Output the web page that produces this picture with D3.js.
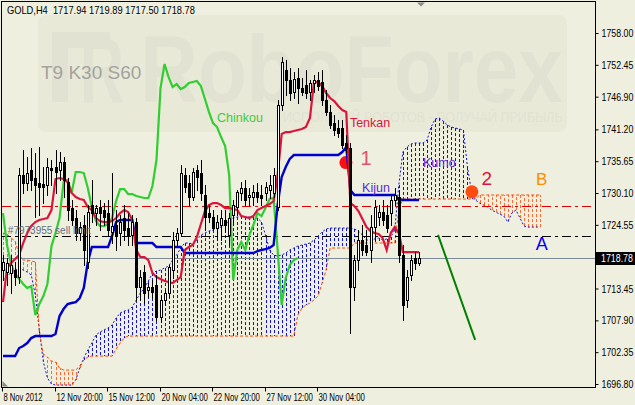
<!DOCTYPE html>
<html><head><meta charset="utf-8">
<script src="https://cdn.jsdelivr.net/npm/d3@7"></script>
<style>
html,body{margin:0;padding:0;background:#efefdf;}
svg{display:block;font-family:"Liberation Sans",Arial,sans-serif;}
</style></head><body>
<svg id="c" width="635" height="405"></svg>
<script>
// ---------- data ----------
const symbolInfo = "GOLD,H4  1717.94 1719.89 1717.50 1718.78";
const settingsText = "T9 K30 S60";
const dateTickIndex = [0, 13, 26, 39, 52, 65, 78];
const dateTickLabels = ["8 Nov 2012", "12 Nov 20:00", "15 Nov 12:00", "20 Nov 04:00", "22 Nov 20:00", "27 Nov 12:00", "30 Nov 04:00"];
const priceTicks = [1758.00, 1752.45, 1746.90, 1741.20, 1735.65, 1730.10, 1724.55, 1713.45, 1707.90, 1702.35, 1696.80];
const lastPrice = 1718.78;

const open = [1716.67,1716.32,1716.15,1716.67,1715.45,1733.23,1731.84,1734.11,1732.71,1731.84,
1731.66,1731.49,1734.46,1734.63,1734.11,1735.50,1732.01,1727.48,1725.74,1723.12,
1724.52,1718.07,1728.00,1726.61,1727.66,1727.13,1726.61,1723.30,1724.52,1723.12,
1725.74,1724.00,1722.77,1725.04,1713.71,1716.32,1713.18,1713.71,1714.06,1708.47,
1711.44,1712.66,1716.67,1721.90,1723.12,1733.23,1731.84,1729.40,1734.11,1733.58,
1729.75,1726.61,1725.91,1724.00,1724.52,1725.39,1722.77,1726.26,1727.66,1730.10,
1730.97,1729.40,1729.40,1730.27,1729.75,1730.10,1730.62,1730.10,1727.66,1745.44,
1751.54,1749.80,1747.71,1750.15,1748.41,1748.93,1747.71,1749.28,1749.80,1749.45,
1746.31,1744.22,1742.30,1741.43,1741.43,1738.81,1737.94,1713.71,1718.41,1721.90,
1721.03,1720.16,1724.17,1725.91,1726.78,1726.26,1726.61,1728.88,1729.40,1719.29,
1711.44,1715.80,1718.76,1717.94];
const high = [1719.29,1718.76,1719.29,1718.07,1734.46,1737.59,1736.37,1737.94,1737.07,1738.11,
1734.63,1736.20,1735.85,1737.59,1737.24,1736.37,1732.71,1728.88,1727.13,1725.04,
1726.26,1728.00,1732.36,1728.00,1728.88,1728.35,1728.88,1733.58,1727.13,1726.26,
1728.00,1726.61,1726.26,1725.74,1716.67,1717.54,1714.40,1714.93,1715.80,1712.31,
1713.18,1717.54,1723.30,1724.00,1734.98,1734.46,1733.23,1734.46,1734.98,1735.85,
1731.49,1728.00,1727.13,1726.26,1727.13,1727.13,1726.61,1728.88,1730.62,1732.01,
1732.36,1730.97,1731.49,1731.84,1731.49,1732.01,1733.23,1734.46,1746.31,1753.81,
1753.29,1751.89,1751.19,1751.89,1750.15,1751.54,1749.80,1750.67,1751.19,1751.54,
1748.06,1745.44,1743.70,1742.83,1742.83,1740.21,1738.81,1719.29,1723.65,1724.52,
1723.65,1726.26,1728.88,1728.00,1728.88,1728.00,1729.75,1730.97,1730.62,1721.03,
1716.67,1719.29,1719.81,1719.89];
const low = [1714.93,1714.06,1712.66,1714.06,1714.40,1730.10,1730.62,1730.62,1725.91,1726.26,
1728.35,1729.75,1731.49,1730.10,1732.36,1729.40,1725.39,1724.52,1721.90,1721.90,
1717.54,1717.02,1725.04,1724.52,1723.65,1724.52,1722.77,1721.38,1720.16,1721.03,
1721.90,1721.03,1721.03,1711.44,1711.44,1710.92,1711.96,1711.79,1707.95,1707.60,
1710.57,1711.96,1715.27,1721.03,1722.60,1730.27,1728.00,1728.88,1730.62,1728.88,
1723.65,1725.04,1723.65,1721.90,1721.90,1723.30,1721.03,1724.52,1726.26,1728.88,
1728.00,1728.00,1728.00,1728.53,1728.00,1728.88,1729.23,1729.40,1727.13,1744.57,
1747.18,1746.31,1746.66,1745.79,1747.18,1746.66,1746.31,1747.71,1748.06,1745.44,
1743.70,1741.43,1740.21,1739.86,1737.94,1737.24,1705.67,1711.44,1716.67,1719.29,
1719.29,1718.07,1721.90,1724.52,1724.52,1723.30,1724.52,1728.00,1718.07,1707.95,
1710.22,1714.93,1716.84,1717.50];
const close = [1718.07,1717.89,1717.54,1715.45,1733.23,1731.84,1733.58,1732.36,1731.49,1731.14,
1731.14,1734.63,1734.11,1733.76,1735.50,1732.36,1727.13,1725.39,1723.12,1724.17,
1720.16,1726.78,1726.61,1727.48,1726.61,1725.91,1723.65,1724.34,1722.77,1725.04,
1723.65,1722.77,1725.04,1713.71,1715.45,1712.66,1713.71,1712.83,1708.47,1711.44,
1712.66,1717.19,1721.90,1723.12,1733.58,1731.14,1729.40,1733.76,1732.88,1730.10,
1725.91,1725.91,1724.00,1725.04,1725.74,1724.52,1725.74,1728.00,1730.27,1730.97,
1728.88,1729.75,1730.27,1729.40,1729.23,1731.14,1731.49,1733.23,1745.44,1752.94,
1749.80,1747.53,1749.97,1748.41,1747.71,1747.53,1749.28,1749.80,1748.75,1746.31,
1744.22,1741.95,1741.08,1740.56,1738.47,1737.94,1713.71,1718.41,1721.90,1720.16,
1719.81,1724.17,1727.66,1726.78,1725.39,1724.00,1728.88,1729.75,1719.29,1710.57,
1715.45,1718.41,1717.89,1718.78];

const tenkan = [1711.09,1717.02,1717.89,1718.59,1719.29,1721.38,1723.12,1724.34,1725.04,1725.39,
1725.56,1725.74,1727.13,1732.54,1732.71,1732.54,1732.01,1730.10,1729.40,1729.05,
1728.88,1727.66,1727.13,1725.74,1725.21,1725.04,1725.04,1725.21,1725.74,1726.61,
1727.13,1726.78,1725.39,1720.16,1718.94,1718.94,1718.41,1716.15,1715.45,1715.10,
1714.75,1714.58,1714.40,1714.93,1715.45,1720.16,1720.68,1721.03,1722.42,1724.69,
1726.96,1728.00,1728.35,1728.35,1728.00,1727.48,1727.48,1727.31,1727.13,1726.09,
1725.91,1725.74,1726.09,1727.13,1727.48,1727.83,1728.18,1728.70,1733.23,1740.38,
1740.73,1740.73,1740.91,1741.08,1741.26,1741.61,1743.17,1749.45,1749.45,1748.75,
1747.53,1746.66,1746.14,1745.27,1744.57,1744.22,1728.35,1727.83,1726.96,1725.56,
1724.17,1723.47,1723.12,1722.95,1722.25,1720.16,1723.12,1724.17,1723.12,1719.81,
1719.81,1719.81,1719.81,1719.81];
const kijun = [1701.67,1701.67,1701.67,1701.67,1703.07,1703.42,1703.94,1704.81,1705.16,1705.16,
1705.16,1705.16,1705.16,1705.51,1708.65,1709.87,1710.74,1710.92,1711.09,1711.79,
1713.53,1718.07,1720.68,1720.68,1720.68,1720.68,1720.68,1722.60,1725.04,1725.39,
1725.39,1725.39,1725.39,1721.38,1721.38,1721.38,1721.38,1721.38,1720.68,1720.68,
1720.68,1720.68,1720.68,1720.68,1720.68,1719.63,1719.63,1719.63,1719.63,1719.63,
1719.63,1719.63,1719.63,1719.63,1719.63,1719.63,1719.63,1719.63,1719.63,1719.63,
1719.63,1719.63,1719.63,1719.98,1720.16,1720.33,1720.51,1721.03,1728.00,1732.88,
1734.63,1736.03,1736.72,1736.72,1736.72,1736.72,1736.72,1736.72,1736.72,1736.72,
1736.72,1736.72,1736.72,1736.72,1737.25,1738.12,1730.62,1729.75,1729.75,1729.75,
1729.75,1729.75,1729.75,1729.75,1729.75,1729.75,1729.75,1729.75,1729.05,1728.88,
1728.88,1728.88,1728.88,1728.88];
const chinkou = [1726.61,1721.03,1717.72,1715.97,1715.10,1714.23,1713.53,1713.88,1708.82,1710.74,
1712.14,1714.23,1720.85,1723.12,1725.74,1732.01,1732.36,1730.10,1733.76,1733.76,
1733.58,1730.97,1727.66,1725.21,1724.34,1724.34,1724.69,1725.74,1728.70,1730.79,
1730.79,1729.92,1729.92,1729.57,1729.40,1729.23,1729.23,1731.32,1735.85,1748.41,
1752.59,1750.32,1748.58,1749.10,1748.23,1748.58,1749.28,1749.45,1749.63,1748.75,
1746.49,1744.22,1742.30,1741.61,1739.86,1738.29,1733.23,1714.93,1720.16,1721.55,
1720.16,1722.77,1724.52,1726.61,1726.09,1727.48,1729.05,1729.23,1720.16,1710.57,
1715.27,1717.54,1718.41,1718.78];
const spanA = [1714.93,1715.45,1716.32,1716.67,1717.02,1716.67,1716.32,1715.80,1712.31,1706.21,
1700.63,1697.84,1696.79,1696.62,1696.62,1696.62,1696.62,1696.62,1697.49,1699.58,
1701.33,1702.72,1703.94,1705.34,1705.86,1706.21,1706.56,1707.08,1708.30,1709.17,
1709.52,1709.70,1710.22,1711.44,1712.66,1713.53,1714.75,1716.15,1716.50,1716.67,
1717.02,1717.37,1718.41,1719.29,1720.51,1721.38,1721.38,1721.20,1721.90,1722.77,
1723.12,1723.47,1723.64,1723.99,1724.17,1724.52,1725.39,1725.74,1725.91,1726.09,
1725.91,1725.91,1725.91,1725.74,1725.04,1722.77,1720.16,1719.29,1719.11,1719.29,
1719.63,1720.16,1720.51,1720.85,1721.03,1721.20,1721.38,1721.90,1722.60,1723.30,
1723.82,1723.99,1723.99,1723.99,1723.99,1723.99,1723.99,1723.82,1723.47,1722.77,
1721.90,1721.90,1722.08,1722.25,1721.90,1722.08,1722.42,1723.64,1731.49,1737.25,
1738.12,1738.64,1738.82,1738.82,1738.82,1739.34,1741.61,1743.00,1743.17,1742.65,
1741.95,1741.61,1741.43,1741.26,1741.08,1734.63,1730.27,1728.88,1728.35,1728.00,
1727.66,1727.13,1726.78,1726.43,1726.09,1725.04,1726.61,1727.13,1725.74,1724.34,
1724.17,1724.17,1724.17,1724.17];
const spanB = [1723.12,1722.95,1722.25,1721.73,1719.29,1718.41,1718.41,1718.24,1718.07,1705.68,
1702.02,1701.50,1700.80,1700.63,1699.58,1699.23,1699.23,1699.23,1699.23,1699.93,
1700.98,1701.50,1701.67,1701.67,1701.67,1701.67,1701.67,1701.67,1702.89,1703.94,
1704.81,1705.16,1705.16,1705.16,1705.16,1705.16,1705.16,1705.16,1705.16,1705.16,
1705.16,1705.16,1705.16,1705.16,1705.16,1705.16,1705.16,1705.16,1705.16,1705.16,
1705.16,1705.16,1705.16,1705.16,1705.16,1705.16,1705.16,1705.16,1705.16,1705.16,
1705.16,1705.16,1705.16,1705.16,1705.16,1705.16,1705.16,1705.16,1705.16,1705.16,
1705.16,1705.16,1705.16,1708.82,1710.04,1710.57,1710.92,1711.44,1712.14,1714.40,
1716.67,1720.51,1720.51,1720.51,1720.51,1720.51,1720.51,1721.38,1721.38,1721.38,
1721.38,1721.38,1721.38,1721.38,1721.38,1721.38,1721.38,1721.38,1727.13,1729.05,
1729.05,1729.05,1729.05,1729.05,1729.05,1729.05,1729.05,1729.05,1729.05,1729.05,
1729.05,1729.05,1729.05,1729.05,1729.05,1729.05,1729.05,1729.05,1729.75,1729.75,
1729.75,1729.75,1729.75,1729.75,1729.75,1729.75,1729.75,1729.75,1729.75,1729.75,
1729.75,1729.75,1729.75,1729.75];

const redLevel = 1727.88;
const sellLimitLevel = 1722.64;
const trendLine = [[107.7, 1722.8], [116.9, 1704.5]];
const dots = [{i: 84.9, p: 1735.4, c: "#ff1010"}, {i: 116.1, p: 1730.3, c: "#ff4a10"}];
const labels = [
  {t: "Chinkou", i: 53.0, p: 1742.5, c: "#3ccc3c", s: 12.5, a: "start"},
  {t: "Tenkan", i: 85.9, p: 1741.6, c: "#dc143c", s: 12.5, a: "start"},
  {t: "Kijun", i: 88.9, p: 1730.3, c: "#5a2ad8", s: 12.5, a: "start"},
  {t: "Kumo", i: 104.0, p: 1734.6, c: "#5a2ad8", s: 12.5, a: "start"},
  {t: "1", i: 89.9, p: 1734.9, c: "#e4506a", s: 20, a: "middle"},
  {t: "2", i: 119.8, p: 1731.5, c: "#dc143c", s: 19, a: "middle"},
  {t: "B", i: 133.4, p: 1731.5, c: "#ff8c00", s: 17, a: "middle"},
  {t: "A", i: 133.4, p: 1720.2, c: "#0000ff", s: 18, a: "middle"},
  {t: "#7973955 sell limit", i: 1.2, p: 1722.95, c: "#5f6e7e", s: 10, a: "start"}
];

// ---------- layout ----------
const W = 635, H = 405;
const L = 2, R = 595, T = 2, B = 387;
const BG = "#efefdf";
const FONT = "Liberation Sans, Arial, sans-serif";
const svg = d3.select("#c");
const x = d3.scaleLinear().domain([0, 103]).range([3, 419]);
const y = d3.scaleLinear().domain([1696.80, 1758.00]).range([384, 33]);
const px = v => Math.round(x(v)) + 0.5;

// place a text so that its natural width is squeezed to "width" (real transform, true bbox)
function fitText(parent, str, tx, ty, width, attrs) {
  const t = parent.append("text").attr("x", 0).attr("y", 0).attr("xml:space", "preserve").text(str);
  Object.entries(attrs || {}).forEach(([k, v]) => t.attr(k, v));
  const nat = t.node().getComputedTextLength();
  const k = width / nat;
  t.attr("transform", `translate(${tx},${ty}) scale(${k},1)`);
  return t;
}

svg.append("rect").attr("width", W).attr("height", H).attr("fill", BG);
svg.append("clipPath").attr("id", "clip").append("rect")
  .attr("x", L).attr("y", T).attr("width", R - L).attr("height", B - T);
const g = svg.append("g").attr("clip-path", "url(#clip)");

// watermark
const WM = "#e2e2d2";
g.append("rect").attr("x", 38).attr("y", 15).attr("width", 529).attr("height", 117).attr("rx", 8)
  .attr("fill", "#e9e9d8");
g.append("rect").attr("x", 52).attr("y", 32).attr("width", 16).attr("height", 70).attr("fill", WM);
g.append("rect").attr("x", 52).attr("y", 32).attr("width", 58).attr("height", 16).attr("fill", WM);
fitText(g, "R", 80, 102, 44, {"font-size": 92, "font-weight": "bold", fill: WM, "font-family": FONT});
fitText(g, "RoboForex", 140, 102, 423, {"font-size": 95, "font-weight": "bold", fill: WM, "font-family": FONT});
fitText(g, "ИСПОЛЬЗУЙ РОБОТОВ - ПОЛУЧАЙ ПРИБЫЛЬ", 283, 122, 280, {"font-size": 14, fill: WM, "font-family": FONT});
g.append("text").attr("x", 41).attr("y", 79).attr("font-size", 19).attr("fill", "#a3a3a0").text(settingsText);

// cloud hatch
const cloudIdx = d3.range(spanA.length);
g.append("g").selectAll("line").data(cloudIdx).join("line")
  .attr("x1", i => px(i)).attr("x2", i => px(i))
  .attr("y1", i => y(spanA[i])).attr("y2", i => y(spanB[i]))
  .attr("stroke", i => spanA[i] >= spanB[i] ? "#1010d0" : "#ff6a30")
  .attr("stroke-width", 1).attr("stroke-dasharray", "3,2");

// span lines
const lineGen = arr => d3.line().x((d, i) => x(i)).y(d => y(d))(arr);
g.append("path").attr("d", lineGen(spanA)).attr("fill", "none").attr("stroke", "#1010d0")
  .attr("stroke-width", 1).attr("stroke-dasharray", "2,2");
g.append("path").attr("d", lineGen(spanB)).attr("fill", "none").attr("stroke", "#ff4500")
  .attr("stroke-width", 1).attr("stroke-dasharray", "3,2");

// horizontal levels
const hline = (p, col, dash) => g.append("line").attr("x1", L).attr("x2", R)
  .attr("y1", Math.round(y(p)) + 0.5).attr("y2", Math.round(y(p)) + 0.5)
  .attr("stroke", col).attr("stroke-width", 1).attr("stroke-dasharray", dash);
hline(redLevel, "#e00000", "9,4,3,4");
hline(sellLimitLevel, "#000000", "9,4,3,4");
hline(lastPrice, "#7c8a98", null);

// trend line
g.append("path").attr("d", d3.line().x(d => x(d[0])).y(d => y(d[1]))(trendLine))
  .attr("stroke", "#008000").attr("stroke-width", 2).attr("fill", "none");

// dots
g.selectAll("circle.dot").data(dots).join("circle").attr("class", "dot")
  .attr("cx", d => x(d.i)).attr("cy", d => y(d.p)).attr("r", 6.5).attr("fill", d => d.c);

// indicator lines
g.append("path").attr("d", lineGen(chinkou)).attr("fill", "none").attr("stroke", "#32cd32").attr("stroke-width", 2.2);
g.append("path").attr("d", lineGen(kijun)).attr("fill", "none").attr("stroke", "#0000cd").attr("stroke-width", 2.4);
g.append("path").attr("d", lineGen(tenkan)).attr("fill", "none").attr("stroke", "#dc143c").attr("stroke-width", 2.2);

// candles
const bars = d3.range(open.length);
const cg = g.append("g");
cg.selectAll("line").data(bars).join("line")
  .attr("x1", i => px(i)).attr("x2", i => px(i))
  .attr("y1", i => Math.round(y(high[i]))).attr("y2", i => Math.round(y(low[i])) + 1)
  .attr("stroke", "#000").attr("stroke-width", 1);
cg.selectAll("rect").data(bars).join("rect")
  .attr("x", i => px(i) - 1)
  .attr("y", i => Math.round(y(Math.max(open[i], close[i]))) + 0.5)
  .attr("width", 2)
  .attr("height", i => Math.max(0, Math.round(y(Math.min(open[i], close[i]))) - Math.round(y(Math.max(open[i], close[i])))))
  .attr("fill", i => close[i] > open[i] ? "#ffffff" : "#000000")
  .attr("stroke", "#000").attr("stroke-width", 1);

// labels
g.selectAll("text.lbl").data(labels).join("text").attr("class", "lbl")
  .attr("x", d => x(d.i)).attr("y", d => y(d.p)).attr("font-size", d => d.s)
  .attr("text-anchor", d => d.a).attr("fill", d => d.c).text(d => d.t);

// markers
svg.append("path").attr("d", "M417,2.5L425,2.5L421,6.5Z").attr("fill", "#8a8a8a");
svg.append("path").attr("d", "M2.5,381L2.5,386.5L8,386.5Z").attr("fill", "#8a8a8a");

// frame
svg.append("rect").attr("x", L - 0.5).attr("y", T - 0.5).attr("width", R - L + 1).attr("height", B - T + 1)
  .attr("fill", "none").attr("stroke", "#000").attr("stroke-width", 1);

// header
fitText(svg, symbolInfo, 7, 14, 188, {"font-size": 10.5, fill: "#000", "font-family": FONT});

// right axis
const yAxis = d3.axisRight(y).tickValues(priceTicks).tickFormat(d3.format(".2f")).tickSize(3).tickPadding(3);
const ya = svg.append("g").attr("transform", `translate(${R + 0.5},0)`).call(yAxis);
ya.select(".domain").remove();
ya.selectAll("line").attr("stroke", "#000");
ya.selectAll(".tick text").each(function () {
  const t = d3.select(this).attr("font-size", 10.5).attr("font-family", FONT).attr("fill", "#000");
  const nat = this.getComputedTextLength();
  t.attr("x", 0).attr("dy", null).attr("transform", `translate(6,3.5) scale(${32 / nat},1)`);
});

// current price box
const yl = Math.round(y(lastPrice));
svg.append("rect").attr("x", R + 1).attr("y", yl - 6).attr("width", W - R - 1).attr("height", 13).attr("fill", "#000");
fitText(svg, lastPrice.toFixed(2), R + 6, yl + 4, 32, {"font-size": 10.5, fill: "#fff", "font-family": FONT});

// bottom axis
const xAxis = d3.axisBottom(x).tickValues(dateTickIndex).tickFormat((d, k) => dateTickLabels[k]).tickSize(4).tickPadding(3);
const xa = svg.append("g").attr("transform", `translate(0,${B + 0.5})`).call(xAxis);
xa.select(".domain").remove();
xa.selectAll(".tick").attr("transform", d => `translate(${Math.round(x(d)) - 0.5},0)`);
xa.selectAll("line").attr("stroke", "#000");
xa.selectAll(".tick text").each(function (d, k) {
  const t = d3.select(this).attr("font-size", 10.5).attr("font-family", FONT).attr("fill", "#000")
    .attr("text-anchor", "start");
  const nat = this.getComputedTextLength();
  const w = k === 0 ? 39 : 46.5;
  t.attr("x", 0).attr("y", 0).attr("dy", null).attr("transform", `translate(1,13) scale(${w / nat},1)`);
});
</script>
</body></html>
